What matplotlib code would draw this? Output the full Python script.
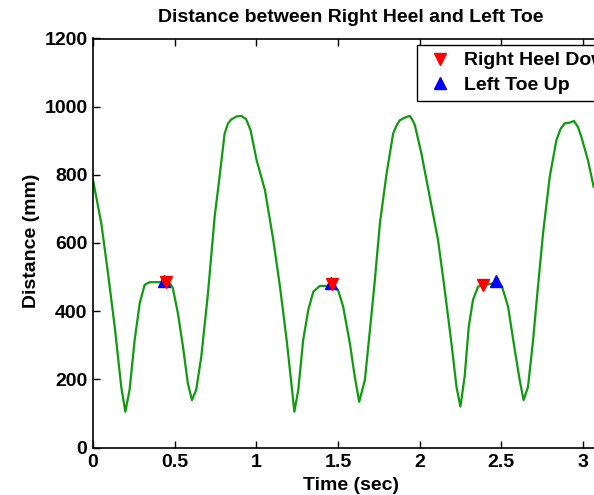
import matplotlib
matplotlib.use("Agg")
import matplotlib.pyplot as plt

plt.rcParams['font.family'] = ['Liberation Sans', 'DejaVu Sans']
plt.rcParams['font.weight'] = 'bold'

# Distance trace (time in s, distance in mm)
time_s = [0.000, 0.051, 0.092, 0.133, 0.173, 0.198, 0.224, 0.255, 0.286, 0.316,
          0.346, 0.407, 0.468, 0.489, 0.520, 0.551, 0.581, 0.606, 0.632, 0.663,
          0.704, 0.745, 0.775, 0.806, 0.826, 0.846, 0.877, 0.908, 0.938, 0.965,
          1.002, 1.053, 1.104,
          1.145, 1.186, 1.217, 1.233, 1.257, 1.287, 1.318, 1.349, 1.389, 1.450,
          1.501, 1.532, 1.573, 1.603, 1.630, 1.665, 1.696, 1.726, 1.757, 1.798,
          1.838, 1.859, 1.879, 1.910, 1.940, 1.955, 1.971, 2.011, 2.062, 2.113,
          2.154, 2.195, 2.226,
          2.250, 2.276, 2.301, 2.327, 2.358, 2.399, 2.460, 2.505, 2.542, 2.583,
          2.613, 2.637, 2.664, 2.695, 2.725, 2.756, 2.797, 2.838, 2.864, 2.889,
          2.918, 2.946, 2.970, 2.991, 3.031, 3.066]
distance_mm = [785, 657, 511, 354, 178, 105, 169, 315, 423, 477,
               485, 485, 485, 467, 394, 296, 188, 139, 169, 266,
               452, 677, 794, 921, 950, 962, 971, 973, 963, 931,
               843, 755, 609,
               472, 315, 178, 105, 169, 315, 403, 457, 474, 474,
               462, 413, 306, 208, 134, 198, 345, 491, 658, 804,
               921, 945, 960, 968, 973, 962, 946, 863, 736, 609,
               462, 306, 178,
               120, 208, 354, 433, 472, 477, 482, 472, 413, 286,
               198, 139, 178, 315, 472, 628, 794, 902, 935, 951,
               953, 958, 940, 911, 843, 765]

heel_down_t = [0.449, 1.461, 2.389]
heel_down_d = [486, 479, 477]
toe_up_t = [0.435, 1.455, 2.466]
toe_up_d = [489, 483, 489]

x_ticks = [0, 0.5, 1, 1.5, 2, 2.5, 3]
x_ticklabels = ['0', '0.5', '1', '1.5', '2', '2.5', '3']
y_ticks = [0, 200, 400, 600, 800, 1000, 1200]

W, H = 594, 495
FS = 14
fig = plt.figure(figsize=(W / 100, H / 100), dpi=100)
ax = fig.add_axes([93 / W, 47.5 / H, 516 / W, 409 / H])

ax.plot(time_s, distance_mm, color='#0f9a0f', lw=1.6, zorder=2)
h_blue, = ax.plot(toe_up_t, toe_up_d, linestyle='none', marker='^', color='#0000ff',
                  markersize=9, zorder=3, label='Left Toe Up')
h_red, = ax.plot(heel_down_t, heel_down_d, linestyle='none', marker='v', color='#ff0000',
                 markersize=9, zorder=4, label='Right Heel Down')

ax.set_xlim(0, 3.16)
ax.set_ylim(0, 1200)
ax.set_xticks(x_ticks)
ax.set_xticklabels(x_ticklabels)
ax.set_yticks(y_ticks)
ax.tick_params(direction='in', length=5, width=1, top=True, right=True,
               labelsize=FS)
ax.tick_params(axis='x', pad=5)
ax.tick_params(axis='y', pad=4)
for lab in ax.get_xticklabels() + ax.get_yticklabels():
    lab.set_fontweight('bold')
for sp in ax.spines.values():
    sp.set_linewidth(1.2)

ax.set_xlabel('Time (sec)', fontsize=FS, fontweight='bold', va='center')
ax.xaxis.set_label_coords(0.5, (447.5 - 485) / 409)
ax.set_ylabel('Distance (mm)', fontsize=FS, fontweight='bold', va='center')
ax.yaxis.set_label_coords((32 - 93) / 516, 0.505)
fig.text(351 / W, 1 - 17 / H, 'Distance between Right Heel and Left Toe',
         ha='center', va='center', fontsize=FS, fontweight='bold')

# Legend placed like the reference (its right part falls outside the figure there too)
leg = fig.legend(handles=[h_red, h_blue], loc='upper left',
                 bbox_to_anchor=(417 / W, 1 - 45 / H), borderaxespad=0,
                 fancybox=False, shadow=False, framealpha=1, edgecolor='black',
                 handlelength=1.7, handletextpad=0.35,
                 borderpad=0.35, labelspacing=0.35,
                 prop={'weight': 'bold', 'size': FS})
leg.get_frame().set_linewidth(1.0)

fig.savefig('out.png', dpi=100)
